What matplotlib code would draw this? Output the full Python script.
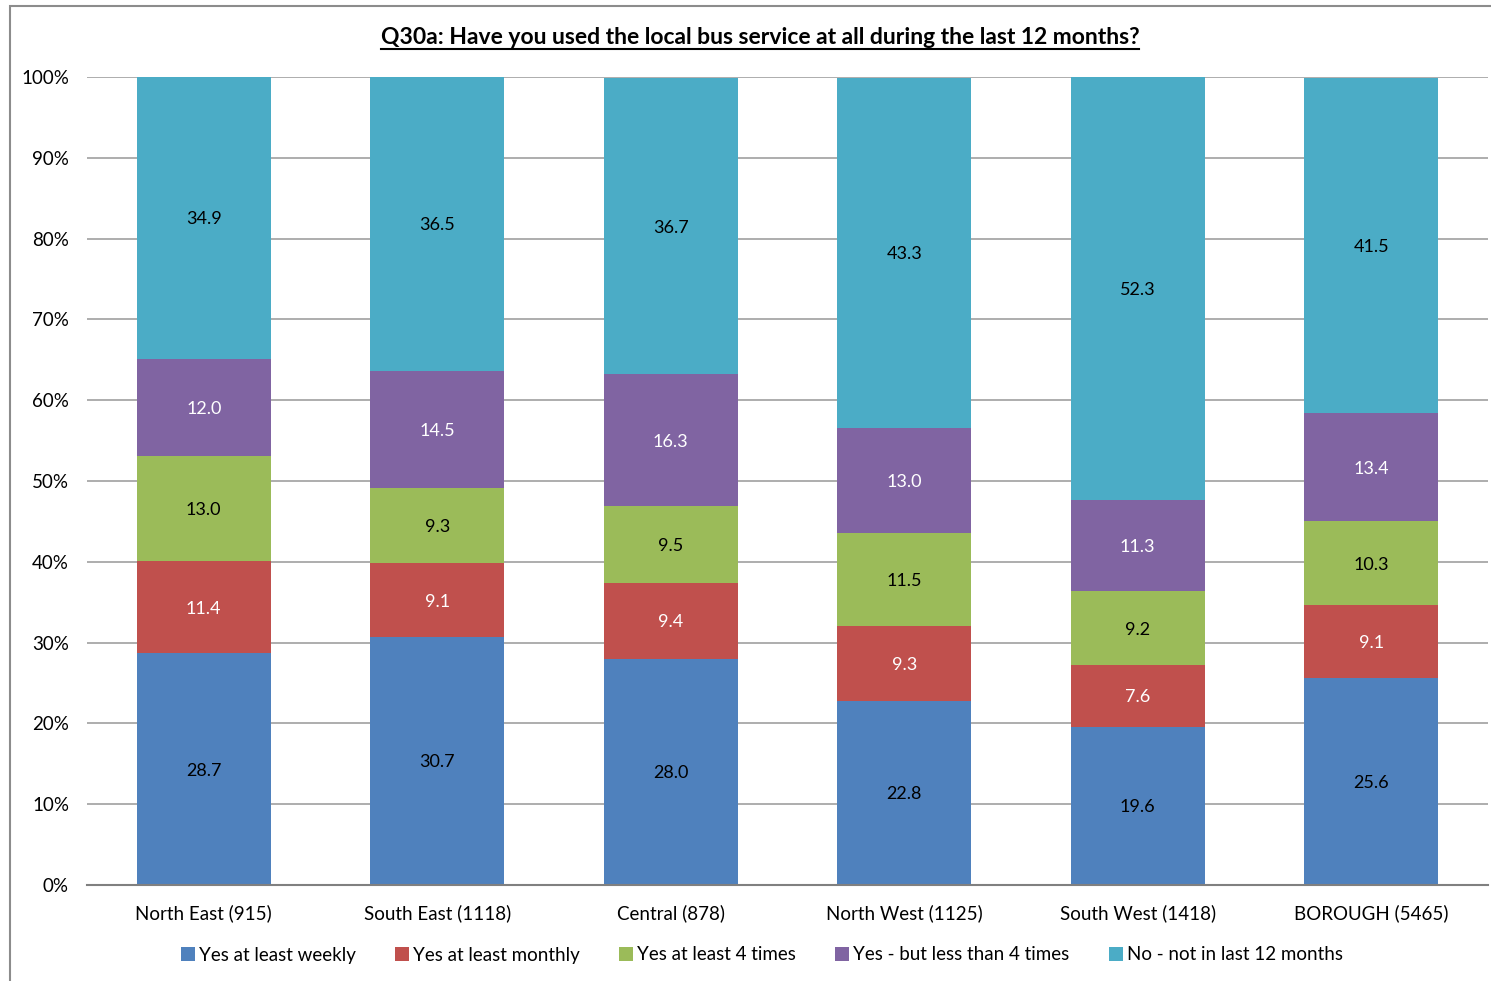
import numpy as np
import matplotlib
matplotlib.use("Agg")
import matplotlib.pyplot as plt
from matplotlib.patches import Rectangle
from matplotlib.lines import Line2D

plt.rcParams['font.family'] = ['Lato', 'DejaVu Sans']

# data
areas = ["North East (915)", "South East (1118)", "Central (878)",
         "North West (1125)", "South West (1418)", "BOROUGH (5465)"]
series = ["Yes at least weekly", "Yes at least monthly", "Yes at least 4 times",
          "Yes - but less than 4 times", "No - not in last 12 months"]
weekly = [28.7, 30.7, 28.0, 22.8, 19.6, 25.6]
monthly = [11.4, 9.1, 9.4, 9.3, 7.6, 9.1]
four_times = [13.0, 9.3, 9.5, 11.5, 9.2, 10.3]
less_four = [12.0, 14.5, 16.3, 13.0, 11.3, 13.4]
not_used = [34.9, 36.5, 36.7, 43.3, 52.3, 41.5]

colors = ["#4F81BD", "#C0504D", "#9BBB59", "#8064A2", "#4BACC6"]
label_colors = ["black", "white", "black", "white", "black"]

W, H = 1491, 981
fig = plt.figure(figsize=(W / 100, H / 100), dpi=100)
ax = fig.add_axes([87 / W, 96 / H, 1401 / W, 808 / H])

x = np.arange(len(areas))
bottom = np.zeros(len(areas))
for vals, col, lc, name in zip([weekly, monthly, four_times, less_four, not_used],
                               colors, label_colors, series):
    vals = np.array(vals)
    ax.bar(x, vals, 0.574, bottom=bottom, color=col, label=name, zorder=2)
    for xi, b, v in zip(x, bottom, vals):
        ax.text(xi, b + v / 2, "%.1f" % v, ha="center", va="center_baseline",
                color=lc, fontsize=13, zorder=3)
    bottom += vals

ax.set_xlim(-0.5, len(areas) - 0.5)
ax.set_ylim(0, 100)
ax.set_yticks(np.arange(0, 101, 10))
ax.set_yticklabels(["%d%%" % t for t in range(0, 101, 10)], fontsize=13.5)
ax.set_xticks(x)
ax.set_xticklabels(areas, fontsize=13.5)
ax.yaxis.grid(True, color="#A0A0A0", lw=1.2, zorder=0)
ax.tick_params(axis="both", length=0)
ax.tick_params(axis="y", pad=13)
ax.tick_params(axis="x", pad=14)
for s in ["top", "right", "left"]:
    ax.spines[s].set_visible(False)
ax.spines["bottom"].set_color("#808080")
ax.spines["bottom"].set_linewidth(1.5)

fig.legend(loc="center", bbox_to_anchor=(762 / W, 1 - 955 / H), ncol=5,
           frameon=False, fontsize=13.5, handlelength=0.75, handleheight=0.75,
           handletextpad=0.2, columnspacing=2.1)

# chart border
fig.patches.append(Rectangle((10 / W, -0.1), 1.5, 1.1 - 6 / H, transform=fig.transFigure,
                             fill=False, edgecolor="#8C8C8C", lw=1.5))

title = fig.text(760 / W, 1 - 37 / H,
                 "Q30a: Have you used the local bus service at all during the last 12 months?",
                 ha="center", va="center", fontsize=16.5, fontweight="bold")
fig.canvas.draw()
bb = title.get_window_extent()
fig.lines.append(Line2D([bb.x0 / W, bb.x1 / W], [(bb.y0 - 1) / H] * 2,
                        transform=fig.transFigure, color="black", lw=1.5))

fig.savefig("out.png", dpi=100)
